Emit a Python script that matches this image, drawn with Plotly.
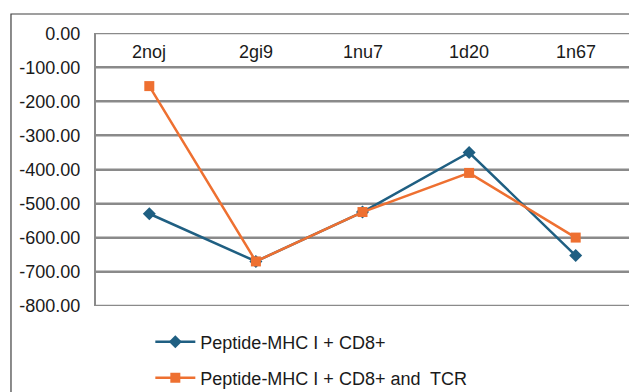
import plotly.graph_objects as go

# Structures and interaction energies
structures = ["2noj", "2gi9", "1nu7", "1d20", "1n67"]
pmhc_cd8 = [-530, -670, -525, -350, -653]
pmhc_cd8_tcr = [-155, -670, -525, -410, -600]
y_ticks = [0, -100, -200, -300, -400, -500, -600, -700, -800]

BLUE = "#1F5F82"
ORANGE = "#EE7031"
GRID = "#8A8A8A"
FONT = "Liberation Sans, Arial, sans-serif"
FS = 18

fig = go.Figure()
fig.add_trace(go.Scatter(
    x=structures, y=pmhc_cd8, mode="lines+markers",
    name="Peptide-MHC I + CD8+",
    line=dict(color=BLUE, width=2.5),
    marker=dict(symbol="diamond", size=10, color=BLUE),
    legend="legend", showlegend=True,
))
fig.add_trace(go.Scatter(
    x=structures, y=pmhc_cd8_tcr, mode="lines+markers",
    name="Peptide-MHC I + CD8+ and  TCR",
    line=dict(color=ORANGE, width=2.5),
    marker=dict(symbol="square", size=10, color=ORANGE),
    legend="legend2", showlegend=True,
))

# Category names sit just under the zero line, inside the plot area
annotations = [
    dict(x=s, y=1, xref="x", yref="paper", text=s, showarrow=False,
         yanchor="top", yshift=-7, font=dict(size=FS))
    for s in structures
]

# Horizontal grid rules at every y tick, placed on the y scale
grid_rules = [
    dict(type="line", xref="paper", yref="y", x0=0, x1=1, y0=v, y1=v,
         line=dict(color=GRID, width=2), layer="below")
    for v in y_ticks
]

border = dict(type="rect", xref="paper", yref="paper",
              x0=-0.1595, x1=1.2, y0=-0.6, y1=1.0696,
              line=dict(color="#404040", width=1.2),
              fillcolor="rgba(0,0,0,0)", layer="above")

legend_style = dict(xref="container", yref="container", x=0.239,
                    xanchor="left", yanchor="middle", itemwidth=40,
                    bgcolor="rgba(0,0,0,0)", font=dict(size=FS))

fig.update_layout(
    template="none",
    width=629, height=392,
    margin=dict(l=96, r=0, t=33, b=86, autoexpand=False),
    paper_bgcolor="white", plot_bgcolor="white",
    showlegend=True,
    font=dict(family=FONT, size=FS, color="#1a1a1a"),
    xaxis=dict(
        type="category", range=[-0.5, 4.5], showticklabels=False,
        ticks="", showgrid=False, showline=False, zeroline=False,
    ),
    yaxis=dict(
        range=[-801, 1], tickmode="array", tickvals=y_ticks,
        ticktext=[f"{v:.2f}" for v in y_ticks],
        showgrid=True, gridcolor=GRID, gridwidth=2,
        zeroline=False, showline=True, linecolor=GRID, linewidth=2,
        ticks="outside", ticklen=10, tickcolor="rgba(255,255,255,0)",
        tickfont=dict(size=FS),
    ),
    annotations=annotations,
    legend=dict(y=0.1276, **legend_style),
    legend2=dict(y=0.0357, **legend_style),
    shapes=grid_rules + [border],
)

fig.write_html("out.html")
